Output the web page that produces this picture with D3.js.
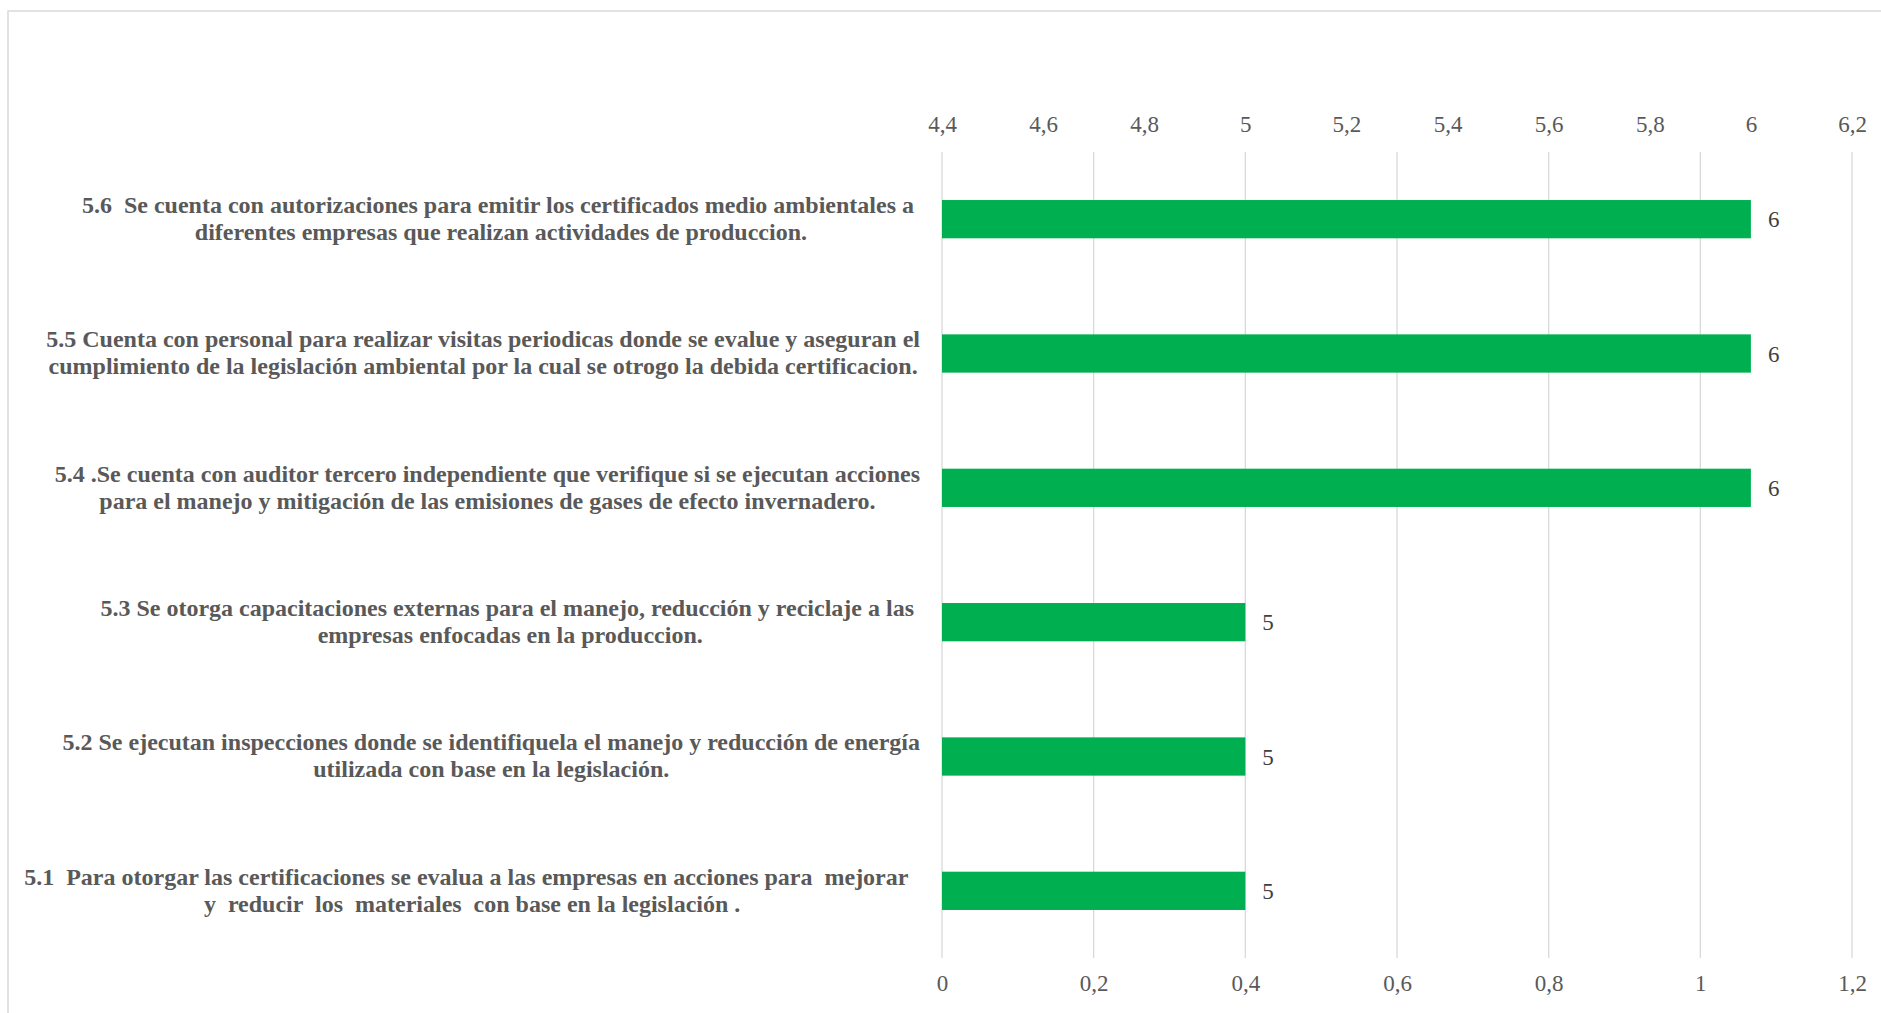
<!DOCTYPE html>
<html>
<head>
<meta charset="utf-8">
<script src="https://cdn.jsdelivr.net/npm/d3@7"></script>
<style>
  html, body { margin: 0; padding: 0; background: #ffffff; }
  svg { display: block; }
</style>
</head>
<body>
<svg id="chart" width="1881" height="1013"></svg>
<script>
// Items, each wrapped over two lines (top to bottom as drawn)
const itemLines = [
  ["5.6  Se cuenta con autorizaciones para emitir los certificados medio ambientales a ",
   "diferentes empresas que realizan actividades de produccion."],
  ["5.5 Cuenta con personal para realizar visitas periodicas donde se evalue y aseguran el",
   "cumplimiento de la legislación ambiental por la cual se otrogo la debida certificacion."],
  ["5.4 .Se cuenta con auditor tercero independiente que verifique si se ejecutan acciones",
   "para el manejo y mitigación de las emisiones de gases de efecto invernadero."],
  ["5.3 Se otorga capacitaciones externas para el manejo, reducción y reciclaje a las ",
   "empresas enfocadas en la produccion."],
  ["5.2 Se ejecutan inspecciones donde se identifiquela el manejo y reducción de energía",
   "utilizada con base en la legislación."],
  ["5.1  Para otorgar las certificaciones se evalua a las empresas en acciones para  mejorar  ",
   "y  reducir  los  materiales  con base en la legislación ."]
];
const itemIds = ["5.6", "5.5", "5.4", "5.3", "5.2", "5.1"];
const scores = [6, 6, 6, 5, 5, 5];

// Secondary (top) axis carries the bars; primary (bottom) axis carries the gridlines
const topTicks = [4.4, 4.6, 4.8, 5, 5.2, 5.4, 5.6, 5.8, 6, 6.2];
const bottomTicks = [0, 0.2, 0.4, 0.6, 0.8, 1, 1.2];

const FONT = '"Liberation Serif"';
const svg = d3.select("#chart");
const W = 1881, H = 1013;

// Chart area outline
svg.append("rect")
  .attr("x", 8).attr("y", 11)
  .attr("width", W + 20).attr("height", H + 20)
  .attr("fill", "none").attr("stroke", "#d9d9d9").attr("stroke-width", 1.5);

const plot = { left: 942, right: 1852, top: 152, bottom: 958 };

const xTop = d3.scaleLinear().domain([4.4, 6.2]).range([plot.left, plot.right]);
const xBottom = d3.scaleLinear().domain([0, 1.2]).range([plot.left, plot.right]);
const y = d3.scaleBand().domain(itemIds).range([plot.top, plot.bottom]).paddingInner(0.715).paddingOuter(0.3575);

const fmt = d => String(d).replace(".", ",");

// Gridlines from the primary axis
svg.append("g")
  .selectAll("line")
  .data(bottomTicks)
  .join("line")
  .attr("x1", d => xBottom(d)).attr("x2", d => xBottom(d))
  .attr("y1", plot.top).attr("y2", plot.bottom)
  .attr("stroke", "#d9d9d9").attr("stroke-width", 1.3);

// Bottom axis labels
const axB = svg.append("g")
  .attr("transform", `translate(0,${plot.bottom})`)
  .call(d3.axisBottom(xBottom).tickValues(bottomTicks).tickFormat(fmt).tickSize(0).tickPadding(17));
axB.select(".domain").remove();
axB.selectAll("text")
  .style("font-family", FONT).style("font-size", "23px")
  .attr("fill", "#595959");

// Top axis labels
const axT = svg.append("g")
  .attr("transform", `translate(0,${plot.top})`)
  .call(d3.axisTop(xTop).tickValues(topTicks).tickFormat(fmt).tickSize(0).tickPadding(20));
axT.select(".domain").remove();
axT.selectAll("text")
  .style("font-family", FONT).style("font-size", "23px")
  .attr("fill", "#595959");

// Bars, based at the left end of the top axis
const rows = itemIds.map((id, i) => ({ id, value: scores[i], lines: itemLines[i] }));

svg.append("g")
  .selectAll("rect")
  .data(rows)
  .join("rect")
  .attr("x", xTop(4.4))
  .attr("y", d => y(d.id))
  .attr("width", d => xTop(d.value) - xTop(4.4))
  .attr("height", y.bandwidth())
  .attr("fill", "#00b050");

// Value labels
svg.append("g")
  .selectAll("text")
  .data(rows)
  .join("text")
  .attr("x", d => xTop(d.value) + 17)
  .attr("y", d => y(d.id) + y.bandwidth() / 2)
  .attr("dy", "0.35em")
  .attr("fill", "#404040")
  .style("font-family", FONT).style("font-size", "23px")
  .text(d => d.value);

// Category labels: two centred lines, block right-aligned beside the plot
const labelRight = 920;
const lineGap = 27;
const catG = svg.append("g");
rows.forEach(d => {
  const g = catG.append("g");
  const texts = d.lines.map((ln, k) =>
    g.append("text")
      .attr("xml:space", "preserve")
      .style("white-space", "pre")
      .style("font-family", FONT)
      .style("font-size", "24px")
      .style("font-weight", "bold")
      .attr("fill", "#595959")
      .attr("text-anchor", "middle")
      .attr("y", y(d.id) + y.bandwidth() / 2 + (k - 0.5) * lineGap)
      .attr("dy", "0.3em")
      .text(ln)
  );
  const widths = texts.map(t => t.node().getComputedTextLength());
  const blockW = d3.max(widths);
  const cx = labelRight - blockW / 2;
  texts.forEach(t => t.attr("x", cx));
});
</script>
</body>
</html>
